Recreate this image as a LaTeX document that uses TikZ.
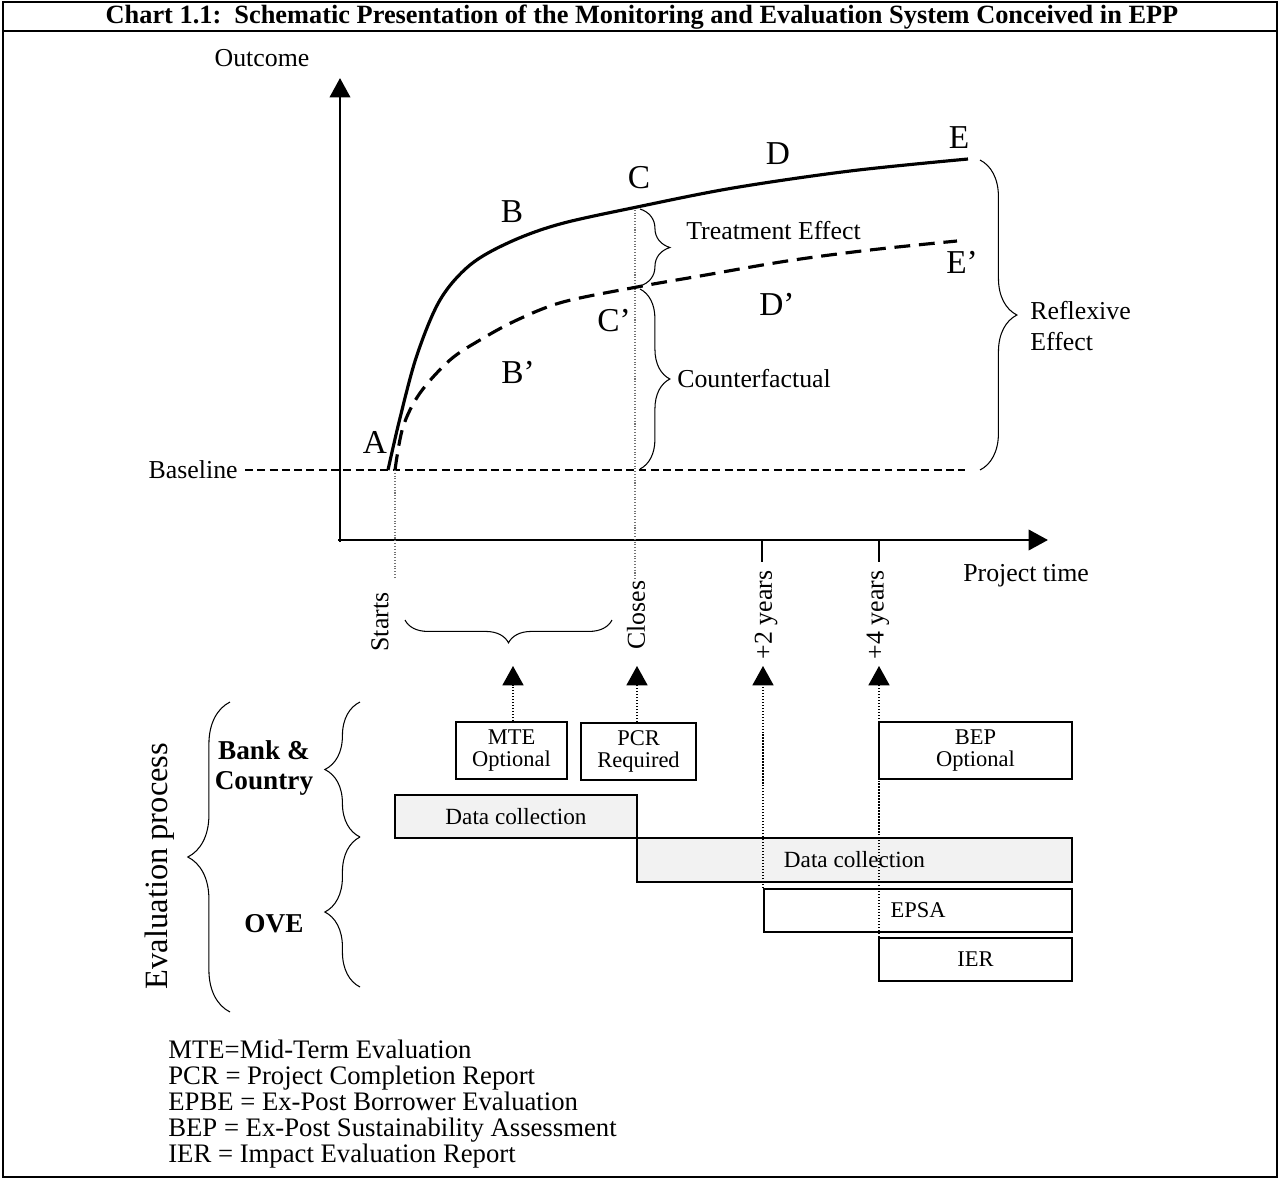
\documentclass[tikz,border=0pt]{standalone}
\usepackage{fontspec}
\setmainfont{Liberation Serif}
\usetikzlibrary{arrows.meta,decorations.pathreplacing}
\tikzset{
	lbl/.style={inner sep=0pt, font=\fontsize{14.7}{14.7}\selectfont},
	ptlbl/.style={inner sep=0pt, font=\fontsize{19}{19}\selectfont},
	evbox/.style={draw, line width=1.1pt, inner sep=0pt, align=center, font=\fontsize{12.8}{12.8}\selectfont},
	dcbox/.style={evbox, font=\fontsize{13.2}{13.2}\selectfont, fill=black!5},
	brc/.style={decorate, decoration={brace, amplitude=#1}, line width=0.6pt},
	axisline/.style={line width=1.7pt, -{Triangle[length=11pt, width=11.5pt]}},
	uparrow/.style={densely dotted, line width=0.7pt, -{Triangle[length=11pt, width=12pt]}},
	guide/.style={densely dotted, line width=0.6pt, black!55}
}

\begin{document}
\begin{tikzpicture}[x=0.02cm, y=-0.02cm]
		%%%%% START %%%%%
		\useasboundingbox (0,0) rectangle (1279,1180);
		\draw[line width=1.2pt] (3,2) rectangle (1277,1177);
		\draw[line width=1.2pt] (3,31) -- (1277,31);
		\node[anchor=base, inner sep=0pt, font=\bfseries\fontsize{15}{15}\selectfont] (title) at (642,23) {Chart 1.1:\ \ Schematic Presentation of the Monitoring and Evaluation System Conceived in EPP};
		
		% axes
		\draw[axisline] (340,542) -- (340,78);
		\draw[axisline] (338,540) -- (1048,540);
		\draw[line width=0.8pt] (762,540) -- (762,562);
		\draw[line width=0.8pt] (879,540) -- (879,562);
		\node[lbl] (outcome) at (262,58) {Outcome};
		\node[lbl, anchor=west] (ptime) at (963,576) {Project time};
		\node[lbl, anchor=east] (baseline) at (238,470) {Baseline};
		\draw[line width=0.6pt, dash pattern=on 4.5pt off 2.5pt] (245,470) -- (965,470);
		
		\draw[guide] (395,470) -- (395,578);
		\draw[guide] (635,207) -- (635,580);
		
		% curves
		\draw[line width=1.8pt] plot[smooth, tension=0.55] coordinates {(388,470) (400,418) (417,355) (440,300) (470,265) (510,242) (560,224) (637,207) (733,188) (850,171) (968,159)};
		\draw[line width=1.8pt, dash pattern=on 9pt off 5pt] plot[smooth, tension=0.55] coordinates {(395,470) (403,427) (420,393) (450,360) (480,340) (517,320) (563,302) (637,287) (700,276) (787,261) (870,250) (957,241)};
		
		\node[ptlbl] (ptA) at (375,442) {A};
		\node[ptlbl] (ptB) at (512,212) {B};
		\node[ptlbl] (ptC) at (639,178) {C};
		\node[ptlbl] (ptD) at (778,154) {D};
		\node[ptlbl] (ptE) at (959,138) {E};
		\node[ptlbl] (ptBb) at (518,372) {B'};
		\node[ptlbl] (ptCb) at (614,321) {C'};
		\node[ptlbl] (ptDb) at (777,304) {D'};
		\node[ptlbl] (ptEb) at (962,262) {E'};
		
		% effects
		\draw[brc=17pt] (640,209) -- (640,286);
		\node[lbl, anchor=west] (treat) at (686,231) {Treatment Effect};
		\draw[brc=17pt] (640,289) -- (640,469);
		\node[lbl, anchor=west] (cfact) at (677,379) {Counterfactual};
		\draw[brc=21pt] (980,160) -- (980,470);
		\node[lbl, anchor=west, align=left, font=\fontsize{14.7}{18}\selectfont] (reflex) at (1030,326) {Reflexive\\Effect};
		
		% time marks
		\node[lbl, rotate=90] (starts) at (380,622) {Starts};
		\node[lbl, rotate=90] (closes) at (636,615) {Closes};
		\node[lbl, rotate=90] (yrtwo) at (766,615) {+2 years};
		\node[lbl, rotate=90] (yrfour) at (878,615) {+4 years};
		\draw[brc=13pt] (612,620) -- (405,620);
		
		% evaluation boxes
		\node[evbox, minimum width=2.22cm, minimum height=1.14cm] (mte) at (511.5,750.5) {MTE\\Optional};
		\node[evbox, minimum width=2.30cm, minimum height=1.14cm] (pcr) at (638.5,751.5) {PCR\\Required};
		\node[evbox, minimum width=3.86cm, minimum height=1.14cm] (bep) at (975.5,750.5) {BEP\\Optional};
		\node[dcbox, minimum width=4.84cm, minimum height=0.86cm] (dcone) at (516,816.5) {Data collection};
		\node[dcbox, minimum width=8.70cm, minimum height=0.88cm] (dctwo) at (854.5,860) {Data collection};
		\node[evbox, minimum width=6.16cm, minimum height=0.86cm] (epsa) at (918,910.5) {EPSA};
		\node[evbox, minimum width=3.86cm, minimum height=0.86cm] (ier) at (975.5,959.5) {IER};
		
		\coordinate (tipmte) at (513,666);
		\coordinate (tippcr) at (637,666);
		\coordinate (tipyrtwo) at (763,666);
		\coordinate (tipyrfour) at (879,666);
		\draw[uparrow] (mte.north -| tipmte) -- (tipmte);
		\draw[uparrow] (pcr.north -| tippcr) -- (tippcr);
		\draw[uparrow] (epsa.north -| tipyrtwo) -- (tipyrtwo);
		\draw[uparrow] (ier.north -| tipyrfour) -- (tipyrfour);
		
		% who evaluates
		\draw[brc=24pt] (230,1012) -- (230,702);
		\node[lbl, rotate=90, font=\fontsize{18.5}{18.5}\selectfont] (evproc) at (160,866) {Evaluation process};
		\draw[brc=20pt] (360,837) -- (360,702);
		\draw[brc=20pt] (360,987) -- (360,837);
		\node[lbl, align=center, font=\bfseries\fontsize{15.5}{17.6}\selectfont] (bank) at (264,768) {Bank \&\\Country};
		\node[lbl, font=\bfseries\fontsize{15.5}{15.5}\selectfont] (ove) at (274,924) {OVE};
		
		% legend
		\node[lbl, anchor=north west, align=left, font=\fontsize{15.2}{14.7}\selectfont] (legend) at (168,1040) {MTE=Mid-Term Evaluation\\PCR = Project Completion Report\\EPBE = Ex-Post Borrower Evaluation\\BEP = Ex-Post Sustainability Assessment\\IER = Impact Evaluation Report};
		%%%%% END %%%%%
\end{tikzpicture}
\end{document}
